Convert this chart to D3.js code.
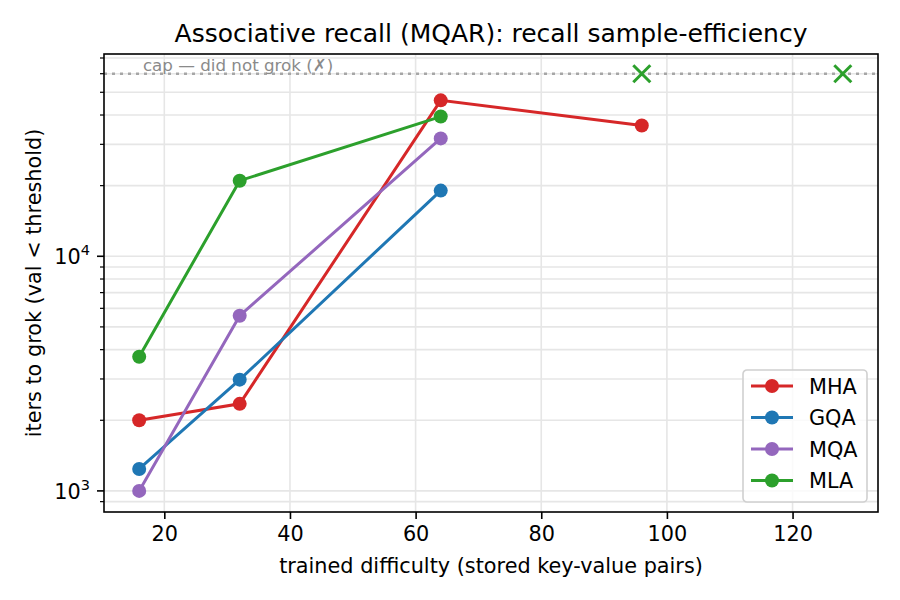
<!DOCTYPE html>
<html><head><meta charset="utf-8">
<script src="https://cdn.jsdelivr.net/npm/d3@7"></script>
<style>body{margin:0;background:#fff}svg{font-family:"DejaVu Sans",sans-serif}</style>
</head><body><svg id="c" width="900" height="600"></svg>
<script>
const difficulty = [16, 32, 64, 96];
const seriesNames = ["MHA", "GQA", "MQA", "MLA"];
const seriesColors = ["#d62728", "#1f77b4", "#9467bd", "#2ca02c"];
const mhaIters = [2000, 2350, 46200, 36100];
const gqaIters = [1240, 2980, 19050];
const mqaIters = [1000, 5580, 31800];
const mlaIters = [3730, 21000, 39400];
const mlaFailed = [96, 128];
const capIters = 60000;
const xTicks = [20, 40, 60, 80, 100, 120];
const yMajor = [1000, 10000];

const svg = d3.select("#c");
const L = 104, R = 878, T = 54, B = 512;
const x = d3.scaleLinear().domain([10.4, 133.6]).range([L, R]);
const y = d3.scaleLog().domain([813, 72800]).range([B, T]);

const yMinor = [];
for (const d of [100, 1000, 10000]) for (let k = 2; k <= 9; k++) { const v = k * d; if (v > 813 && v < 72800) yMinor.push(v); }

const grid = svg.append("g");
yMinor.concat(yMajor).forEach(v => grid.append("line").attr("x1", L).attr("x2", R).attr("y1", y(v)).attr("y2", y(v)).attr("stroke", "#e6e6e6").attr("stroke-width", 1.6));
xTicks.forEach(v => grid.append("line").attr("y1", T).attr("y2", B).attr("x1", x(v)).attr("x2", x(v)).attr("stroke", "#e6e6e6").attr("stroke-width", 1.6));

// cap line
svg.append("line").attr("x1", L).attr("x2", R).attr("y1", y(capIters)).attr("y2", y(capIters))
  .attr("stroke", "#a6a6a6").attr("stroke-width", 2.6).attr("stroke-dasharray", "3,5");
svg.append("text").attr("x", x(16.6)).attr("y", y(capIters) - 3).attr("font-size", 16.7).attr("fill", "#8a8a8a").text("cap — did not grok (✗)");

const series = [mhaIters, gqaIters, mqaIters, mlaIters];
const line = d3.line().x((d, i) => x(difficulty[i])).y(d => y(d));
series.forEach((s, k) => {
  svg.append("path").datum(s).attr("d", line).attr("fill", "none").attr("stroke", seriesColors[k]).attr("stroke-width", 3);
  svg.selectAll(null).data(s).enter().append("circle").attr("cx", (d, i) => x(difficulty[i])).attr("cy", d => y(d)).attr("r", 7).attr("fill", seriesColors[k]);
});
// failed markers
mlaFailed.forEach(v => {
  const cx = x(v), cy = y(capIters), s = 8.5;
  svg.append("path").attr("d", `M${cx - s},${cy - s}L${cx + s},${cy + s}M${cx - s},${cy + s}L${cx + s},${cy - s}`)
    .attr("stroke", seriesColors[3]).attr("stroke-width", 3).attr("fill", "none");
});

// axes
const xa = svg.append("g").attr("transform", `translate(0,${B})`).call(d3.axisBottom(x).tickValues(xTicks).tickSize(7).tickPadding(7).tickFormat(d3.format("d")));
xa.select(".domain").remove();
xa.selectAll("text").attr("font-size", 20.8).attr("fill", "#000").attr("font-family", "DejaVu Sans");
xa.selectAll("line").attr("stroke", "#000").attr("stroke-width", 1.6);

const ya = svg.append("g").attr("transform", `translate(${L},0)`);
yMinor.forEach(v => ya.append("line").attr("x1", -4).attr("x2", 0).attr("y1", y(v)).attr("y2", y(v)).attr("stroke", "#000").attr("stroke-width", 1.2));
yMajor.forEach(v => {
  ya.append("line").attr("x1", -7).attr("x2", 0).attr("y1", y(v)).attr("y2", y(v)).attr("stroke", "#000").attr("stroke-width", 1.6);
  const t = ya.append("text").attr("x", -14).attr("y", y(v) + 8).attr("text-anchor", "end").attr("font-size", 20.8);
  t.append("tspan").text("10");
  t.append("tspan").attr("dy", -9).attr("font-size", 14.5).text(String(Math.round(Math.log10(v))));
});

svg.append("rect").attr("x", L).attr("y", T).attr("width", R - L).attr("height", B - T).attr("fill", "none").attr("stroke", "#000").attr("stroke-width", 1.6);

svg.append("text").attr("x", (L + R) / 2).attr("y", 42).attr("text-anchor", "middle").attr("font-size", 25).text("Associative recall (MQAR): recall sample-efficiency");
svg.append("text").attr("x", (L + R) / 2).attr("y", 573).attr("text-anchor", "middle").attr("font-size", 20.8).text("trained difficulty (stored key-value pairs)");
svg.append("text").attr("transform", `translate(41,${(T + B) / 2}) rotate(-90)`).attr("text-anchor", "middle").attr("font-size", 20.8).text("iters to grok (val < threshold)");

// legend
const lg = svg.append("g").attr("transform", "translate(743,370)");
lg.append("rect").attr("width", 124).attr("height", 132).attr("rx", 4).attr("fill", "#fff").attr("fill-opacity", 0.8).attr("stroke", "#d0d0d0").attr("stroke-width", 1.6);
seriesNames.forEach((n, i) => {
  const yy = 16 + i * 31.5;
  lg.append("line").attr("x1", 8).attr("x2", 50).attr("y1", yy).attr("y2", yy).attr("stroke", seriesColors[i]).attr("stroke-width", 3);
  lg.append("circle").attr("cx", 29).attr("cy", yy).attr("r", 7).attr("fill", seriesColors[i]);
  lg.append("text").attr("x", 66).attr("y", yy + 7.5).attr("font-size", 20.8).text(n);
});
</script></body></html>
